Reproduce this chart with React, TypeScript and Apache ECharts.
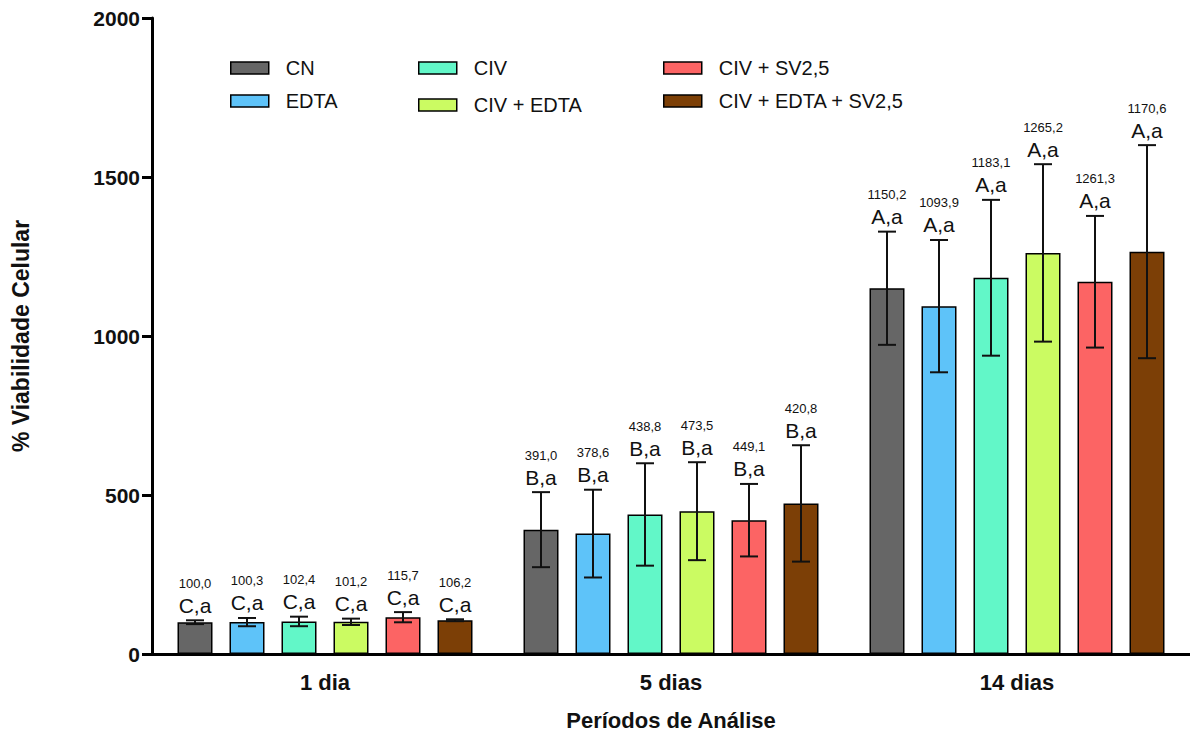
import React, { useEffect, useRef } from "react";
import * as echarts from "echarts";

const categories = ["1 dia", "5 dias", "14 dias"];
const treatments = ["CN", "EDTA", "CIV", "CIV + EDTA", "CIV + SV2,5", "CIV + EDTA + SV2,5"];
const colors = ["#666666", "#5EC3F9", "#62F7C8", "#CBFB62", "#FC6464", "#7C3F06"];

const meanCN = [100.0, 391.0, 1150.2];
const meanEDTA = [100.3, 378.6, 1093.9];
const meanCIV = [102.4, 438.8, 1183.1];
const meanCIVEDTA = [101.2, 449.1, 1261.3];
const meanCIVSV = [115.7, 420.8, 1170.6];
const meanCIVEDTASV = [106.2, 473.5, 1265.2];

const sdCN = [6, 118, 178];
const sdEDTA = [13, 138, 208];
const sdCIV = [15, 161, 245];
const sdCIVEDTA = [10, 154, 279];
const sdCIVSV = [16, 114, 207];
const sdCIVEDTASV = [3, 183, 335];

const numCN = ["100,0", "391,0", "1150,2"];
const numEDTA = ["100,3", "378,6", "1093,9"];
const numCIV = ["102,4", "438,8", "1183,1"];
const numCIVEDTA = ["101,2", "473,5", "1265,2"];
const numCIVSV = ["115,7", "449,1", "1261,3"];
const numCIVEDTASV = ["106,2", "420,8", "1170,6"];

const letters = ["C,a", "B,a", "A,a"];

const yTicks = { min: 0, max: 2000, interval: 500 };

const means = [meanCN, meanEDTA, meanCIV, meanCIVEDTA, meanCIVSV, meanCIVEDTASV];
const sds = [sdCN, sdEDTA, sdCIV, sdCIVEDTA, sdCIVSV, sdCIVEDTASV];
const nums = [numCN, numEDTA, numCIV, numCIVEDTA, numCIVSV, numCIVEDTASV];

const FONT = "'Liberation Sans', Arial, sans-serif";
const BAR_W = 35;
const BAR_GAP = 17;

export default function App() {
  const ref = useRef<HTMLDivElement>(null);
  useEffect(() => {
    if (!ref.current) return;
    const chart = echarts.init(ref.current, undefined, { renderer: "svg" });

    const barSeries = treatments.map((name, i) => ({
      type: "bar",
      name,
      data: means[i],
      barWidth: BAR_W,
      barGap: (BAR_GAP / BAR_W) * 100 + "%",
      itemStyle: { color: colors[i], borderColor: "#000", borderWidth: 1.5 },
      z: 2,
    }));

    const errSeries = treatments.map((name, i) => ({
      type: "custom",
      name: name + "-err",
      coordinateSystem: "cartesian2d",
      z: 5,
      silent: true,
      encode: { x: 0, y: 1 },
      data: means[i].map((m, k) => [k, m, sds[i][k]]),
      renderItem: (params: any, api: any) => {
        const k = api.value(0);
        const m = api.value(1);
        const s = api.value(2);
        const up = api.coord([k, m + s]);
        const lo = api.coord([k, m - s]);
        const x = up[0] + (i - 2.5) * (BAR_W + BAR_GAP);
        const cap = 9;
        const ls = { stroke: "#111", lineWidth: 2 };
        return {
          type: "group",
          children: [
            { type: "line", shape: { x1: x, y1: up[1], x2: x, y2: lo[1] }, style: ls },
            { type: "line", shape: { x1: x - cap, y1: up[1], x2: x + cap, y2: up[1] }, style: ls },
            { type: "line", shape: { x1: x - cap, y1: lo[1], x2: x + cap, y2: lo[1] }, style: ls },
            {
              type: "text",
              x,
              y: up[1] - 15,
              style: {
                text: letters[k],
                fontSize: 21,
                fontFamily: FONT,
                fill: "#111",
                align: "center",
                verticalAlign: "middle",
              },
            },
            {
              type: "text",
              x,
              y: up[1] - 37,
              style: {
                text: nums[i][k],
                fontSize: 13,
                fontFamily: FONT,
                fill: "#111",
                align: "center",
                verticalAlign: "middle",
              },
            },
          ],
        };
      },
    }));

    const legendBase = {
      orient: "vertical",
      top: 53,
      itemWidth: 38,
      itemHeight: 12,
      icon: "rect",
      selectedMode: false,
      itemStyle: { borderColor: "#000", borderWidth: 1.5 },
      textStyle: {
        fontSize: 20,
        fontFamily: FONT,
        color: "#111",
        lineHeight: 20,
        padding: [0, 0, 0, 12],
      },
    };

    const axisFont = { fontWeight: "bold", fontFamily: FONT, color: "#111" };

    chart.setOption({
      animation: false,
      backgroundColor: "#fff",
      legend: [
        { ...legendBase, left: 225, itemGap: 13, data: [treatments[0], treatments[1]] },
        { ...legendBase, left: 413, itemGap: 17, data: [treatments[2], treatments[3]] },
        { ...legendBase, left: 658, itemGap: 13, data: [treatments[4], treatments[5]] },
      ],
      grid: { left: 152, top: 18, width: 1041, bottom: 80, containLabel: false },
      xAxis: {
        type: "category",
        data: categories,
        name: "Períodos de Análise",
        nameLocation: "middle",
        nameGap: 55,
        nameTextStyle: { fontSize: 22, ...axisFont },
        axisLine: { lineStyle: { color: "#000", width: 3 } },
        axisTick: { alignWithLabel: true, length: 9, lineStyle: { color: "#000", width: 3 } },
        axisLabel: { fontSize: 22, margin: 17, ...axisFont },
      },
      yAxis: {
        type: "value",
        min: yTicks.min,
        max: yTicks.max,
        interval: yTicks.interval,
        name: "% Viabilidade Celular",
        nameLocation: "middle",
        nameGap: 120,
        nameTextStyle: { fontSize: 23, ...axisFont },
        splitLine: { show: false },
        axisLine: { show: true, lineStyle: { color: "#000", width: 3 } },
        axisTick: { show: true, length: 10, lineStyle: { color: "#000", width: 3 } },
        axisLabel: {
          fontSize: 21,
          margin: 12,
          ...axisFont,
          formatter: (v: number) => String(v),
        },
      },
      series: [...barSeries, ...errSeries],
    });

    return () => chart.dispose();
  }, []);

  return (
    <div
      ref={ref}
      style={{ position: "fixed", left: 0, top: 0, width: 1190, height: 736, background: "#fff" }}
    />
  );
}
